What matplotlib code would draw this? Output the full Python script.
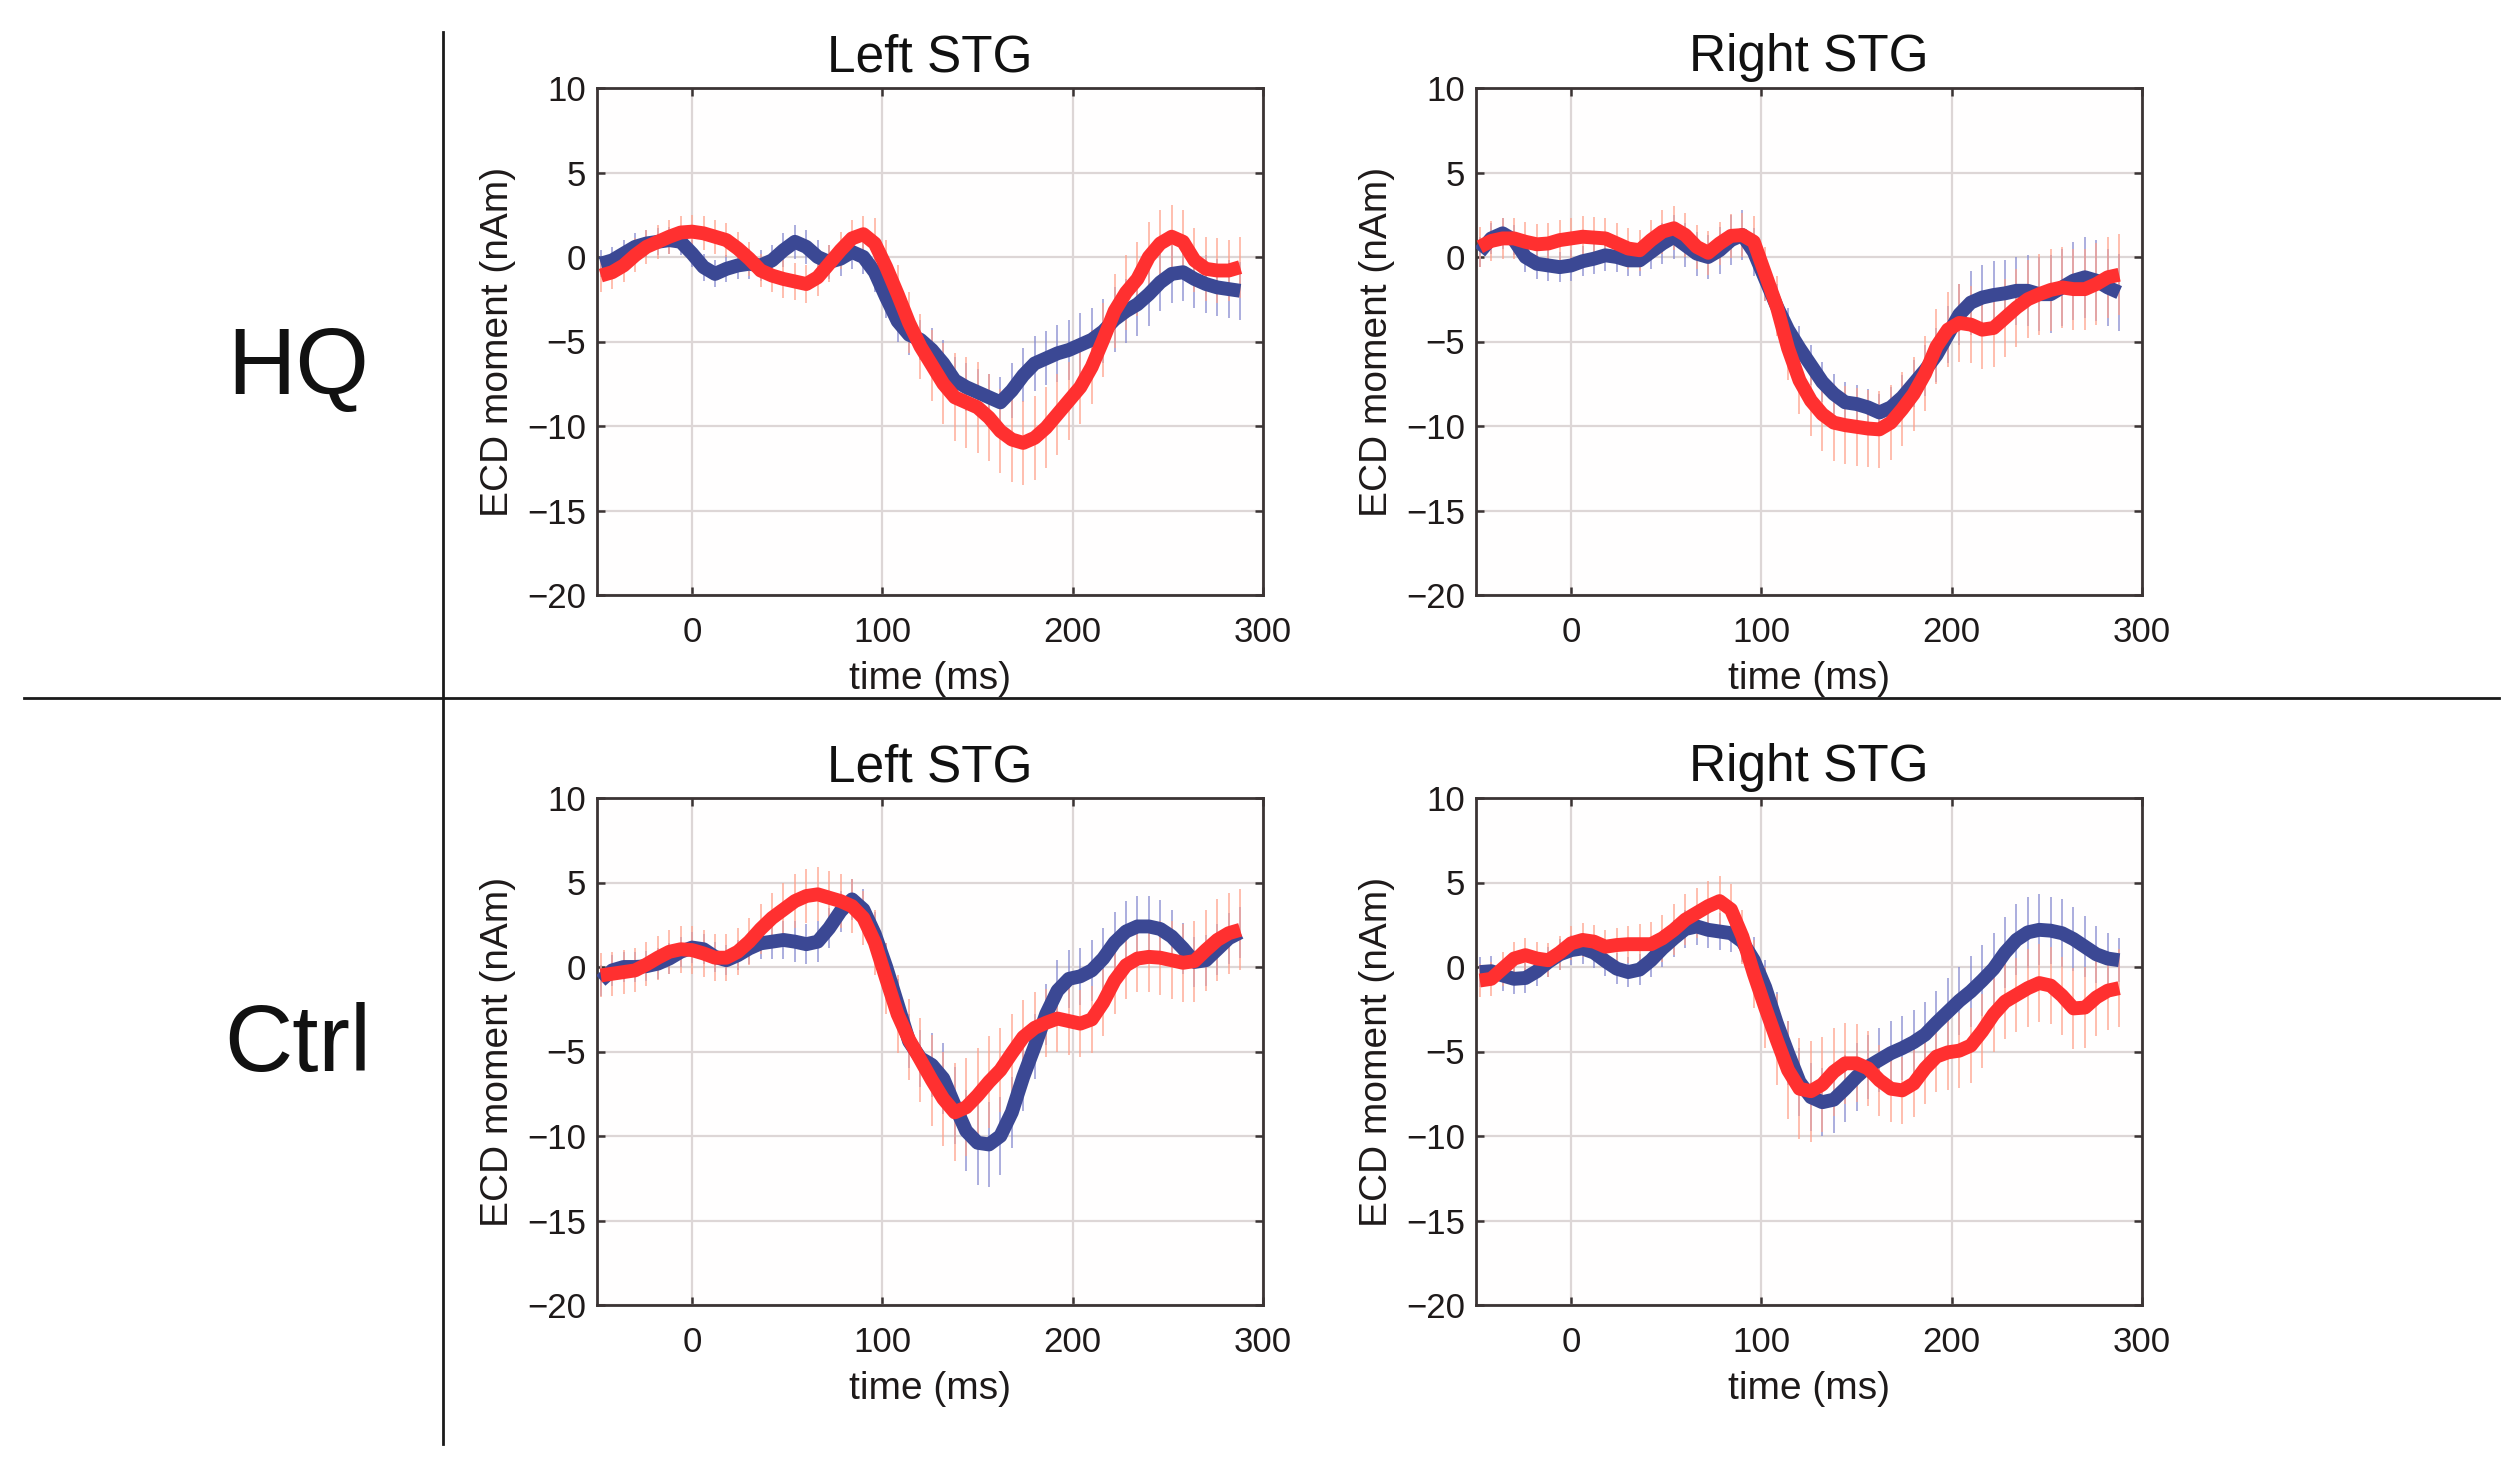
import numpy as np
import matplotlib
matplotlib.use("Agg")
import matplotlib.pyplot as plt
from matplotlib.lines import Line2D

plt.rcParams['font.family'] = ['Liberation Sans', 'DejaVu Sans']

# ---------------- data ----------------
time_ms = np.arange(-48, 289, 6)   # sampling grid of the averaged waveforms (ms)

row_labels = ["HQ", "Ctrl"]
col_titles = ["Left STG", "Right STG"]

hq_left_blue = [-0.4, -0.2, 0.2, 0.6, 0.8, 0.9, 1.0, 0.9, 0.2, -0.6, -1.0, -0.7, -0.5, -0.4, -0.5, -0.2,
                0.4, 0.9, 0.6, 0.0, -0.3, -0.1, 0.3, 0.0,
                -0.9, -2.4, -3.8, -4.6, -4.9, -5.5,
                -6.3, -7.3, -7.7, -8.0, -8.3, -8.6,
                -7.9, -7.0, -6.3, -6.0, -5.7, -5.5,
                -5.2, -4.9, -4.4, -3.7, -3.2, -2.8, -2.2,
                -1.5, -1.0, -0.9, -1.3, -1.6, -1.8, -1.9, -2.0]
hq_left_red = [-1.1, -0.9, -0.5, 0.1, 0.6, 0.9, 1.2, 1.45, 1.5, 1.4, 1.2, 1.0, 0.5, -0.1, -0.8, -1.1,
               -1.3, -1.45, -1.6, -1.2, -0.4, 0.4, 1.1, 1.35,
               0.8, -0.6, -2.2, -3.9, -5.3, -6.4,
               -7.5, -8.3, -8.6, -8.9, -9.5, -10.3,
               -10.8, -11.0, -10.7, -10.1, -9.3, -8.5,
               -7.7, -6.5, -4.9, -3.2, -2.1, -1.3, 0.0,
               0.8, 1.2, 0.9, -0.2, -0.7, -0.8, -0.8, -0.6]
hq_right_blue = [0.3, 1.1, 1.4, 1.0, 0.0, -0.4, -0.5, -0.6, -0.5, -0.25, -0.1, 0.1, 0.0, -0.2, -0.2, 0.3,
                 0.8, 1.2, 0.7, 0.2, 0.0, 0.4, 1.0, 1.3,
                 0.3, -1.3, -2.9, -4.3, -5.4, -6.4,
                 -7.4, -8.1, -8.6, -8.7, -8.9, -9.2,
                 -8.9, -8.3, -7.5, -6.7, -5.8, -4.6,
                 -3.4, -2.7, -2.4, -2.25, -2.15, -2.0, -2.0,
                 -2.2, -2.2, -1.8, -1.4, -1.2, -1.4, -1.8, -2.1]
hq_right_red = [0.6, 0.95, 1.1, 1.1, 0.9, 0.75, 0.8, 1.0, 1.1, 1.2, 1.15, 1.1, 0.8, 0.5, 0.4, 1.0,
                1.5, 1.7, 1.3, 0.6, 0.25, 0.8, 1.25, 1.3,
                0.9, -1.0, -2.9, -5.4, -7.3, -8.5,
                -9.3, -9.8, -9.95, -10.05, -10.15, -10.2,
                -9.8, -9.0, -8.1, -6.9, -5.3, -4.3,
                -3.9, -4.0, -4.3, -4.2, -3.6, -3.0, -2.5,
                -2.2, -1.95, -1.8, -1.9, -1.9, -1.6, -1.2, -1.05]
ctrl_left_blue = [-0.8, -0.2, 0.0, 0.0, 0.05, 0.2, 0.5, 0.9, 1.15, 1.05, 0.6, 0.4, 0.7, 1.1, 1.4, 1.5,
                  1.6, 1.5, 1.35, 1.5, 2.3, 3.3, 4.0, 3.4,
                  1.95, 0.0, -2.2, -4.4, -5.4, -5.8,
                  -6.6, -8.2, -9.7, -10.4, -10.5, -10.0,
                  -8.6, -6.5, -4.7, -2.8, -1.4, -0.7,
                  -0.55, -0.2, 0.5, 1.45, 2.1, 2.4, 2.4,
                  2.25, 1.8, 1.1, 0.3, 0.4, 1.05, 1.7, 2.05]
ctrl_left_red = [-0.5, -0.4, -0.3, -0.2, 0.15, 0.55, 0.9, 1.05, 1.0, 0.8, 0.55, 0.55, 0.9, 1.5, 2.25, 2.9,
                 3.4, 3.9, 4.2, 4.3, 4.1, 3.9, 3.6, 2.9,
                 1.45, -0.7, -2.8, -4.3, -5.5, -6.7,
                 -7.8, -8.6, -8.3, -7.6, -6.8, -6.1,
                 -5.1, -4.15, -3.6, -3.3, -3.05, -3.2,
                 -3.35, -3.1, -2.1, -0.8, 0.1, 0.5, 0.6,
                 0.55, 0.4, 0.25, 0.35, 1.0, 1.6, 2.0, 2.2]
ctrl_right_blue = [-0.3, -0.25, -0.5, -0.7, -0.65, -0.25, 0.3, 0.75, 1.0, 1.1, 0.85, 0.35, -0.1, -0.3, -0.15, 0.4,
                   1.1, 1.7, 2.25, 2.4, 2.2, 2.1, 2.0, 1.5,
                   0.4, -1.2, -3.3, -5.1, -6.8, -7.7,
                   -8.0, -7.85, -7.2, -6.5, -5.9, -5.5,
                   -5.1, -4.8, -4.45, -4.0, -3.3, -2.65,
                   -2.0, -1.45, -0.8, -0.1, 0.85, 1.6, 2.05,
                   2.2, 2.15, 2.0, 1.65, 1.2, 0.75, 0.5, 0.4]
ctrl_right_red = [-0.8, -0.7, -0.1, 0.5, 0.7, 0.5, 0.4, 0.85, 1.4, 1.6, 1.5, 1.2, 1.3, 1.35, 1.35, 1.35,
                  1.7, 2.2, 2.8, 3.2, 3.6, 3.9, 3.4, 1.8,
                  -0.4, -2.4, -4.3, -6.1, -7.2, -7.35,
                  -6.95, -6.2, -5.7, -5.7, -6.0, -6.7,
                  -7.2, -7.3, -6.9, -6.0, -5.3, -5.05,
                  -4.95, -4.65, -3.8, -2.8, -2.05, -1.65, -1.25,
                  -0.95, -1.1, -1.7, -2.45, -2.4, -1.8, -1.4, -1.25]

# standard errors (nAm)
hq_left_blue_sem = [0.8, 0.8, 0.8, 0.8, 0.8, 0.8, 0.8, 0.8, 0.8, 0.8, 0.8, 0.8, 0.8, 0.9, 0.9, 0.9,
                    1.0, 1.0, 1.0, 1.0, 1.0, 1.0, 1.0, 1.0,
                    1.2, 1.2, 1.2, 1.2, 1.2, 1.3,
                    1.4, 1.4, 1.4, 1.4, 1.4, 1.5,
                    1.6, 1.6, 1.6, 1.6, 1.7, 1.8,
                    1.9, 1.9, 1.9, 1.9, 1.9, 1.9, 1.9,
                    1.7, 1.7, 1.7, 1.7, 1.7, 1.7, 1.7, 1.7]
hq_left_red_sem = [1.0, 1.0, 1.0, 1.0, 1.0, 1.0, 1.0, 1.0, 1.0, 1.0, 1.0, 1.0, 1.0, 1.0, 1.0, 1.0,
                   1.1, 1.1, 1.1, 1.1, 1.1, 1.1, 1.1, 1.1,
                   1.5, 1.6, 1.7, 1.8, 1.9, 2.1,
                   2.4, 2.6, 2.7, 2.7, 2.6, 2.5,
                   2.5, 2.5, 2.5, 2.4, 2.4, 2.3,
                   2.2, 2.2, 2.2, 2.2, 2.2, 2.2, 2.1,
                   2.0, 1.9, 1.9, 1.9, 1.9, 1.9, 1.8, 1.8]
hq_right_blue_sem = [0.9, 0.9, 0.9, 0.9, 0.9, 0.9, 0.9, 0.9, 0.9, 0.9, 0.9, 0.9, 0.9, 0.9, 0.9, 1.0,
                     1.2, 1.3, 1.3, 1.3, 1.3, 1.4, 1.5, 1.5,
                     1.4, 1.3, 1.3, 1.3, 1.3, 1.2,
                     1.2, 1.2, 1.2, 1.1, 1.1, 1.1,
                     1.2, 1.3, 1.4, 1.5, 1.6, 1.7,
                     1.8, 1.9, 1.9, 2.0, 2.0, 2.0, 2.1,
                     2.2, 2.3, 2.3, 2.3, 2.4, 2.4, 2.3, 2.3]
hq_right_red_sem = [1.2, 1.2, 1.2, 1.2, 1.2, 1.2, 1.2, 1.2, 1.2, 1.2, 1.2, 1.2, 1.2, 1.2, 1.2, 1.2,
                    1.3, 1.3, 1.3, 1.3, 1.3, 1.3, 1.3, 1.3,
                    1.5, 1.6, 1.8, 1.9, 2.0, 2.1,
                    2.2, 2.3, 2.3, 2.3, 2.3, 2.3,
                    2.2, 2.2, 2.2, 2.2, 2.2, 2.2,
                    2.3, 2.3, 2.3, 2.3, 2.3, 2.3, 2.3,
                    2.4, 2.4, 2.4, 2.4, 2.4, 2.4, 2.4, 2.4]
ctrl_left_blue_sem = [0.9, 0.9, 0.9, 0.9, 0.9, 0.9, 0.9, 0.9, 0.9, 0.9, 0.9, 0.9, 0.9, 0.9, 0.9, 1.0,
                      1.1, 1.2, 1.2, 1.2, 1.2, 1.2, 1.2, 1.2,
                      1.3, 1.4, 1.5, 1.6, 1.7, 1.9,
                      2.1, 2.3, 2.4, 2.5, 2.5, 2.3,
                      2.1, 2.0, 1.9, 1.8, 1.8, 1.7,
                      1.7, 1.8, 1.8, 1.8, 1.8, 1.8, 1.8,
                      1.7, 1.6, 1.5, 1.5, 1.5, 1.5, 1.5, 1.5]
ctrl_left_red_sem = [1.3, 1.3, 1.3, 1.3, 1.3, 1.3, 1.3, 1.4, 1.4, 1.4, 1.4, 1.4, 1.4, 1.4, 1.5, 1.5,
                     1.6, 1.6, 1.6, 1.6, 1.6, 1.6, 1.6, 1.6,
                     1.9, 2.1, 2.3, 2.4, 2.5, 2.7,
                     2.8, 2.9, 2.9, 2.8, 2.7, 2.5,
                     2.3, 2.2, 2.1, 2.0, 2.0, 2.0,
                     2.0, 2.0, 2.0, 2.0, 2.0, 2.0, 2.1,
                     2.2, 2.3, 2.3, 2.4, 2.4, 2.4, 2.4, 2.4]
ctrl_right_blue_sem = [0.9, 0.9, 0.9, 0.9, 0.9, 0.9, 0.9, 0.9, 0.9, 0.9, 0.9, 0.9, 0.9, 0.9, 0.9, 1.0,
                       1.1, 1.1, 1.1, 1.1, 1.1, 1.1, 1.1, 1.2,
                       1.4, 1.6, 1.8, 1.9, 2.0, 2.0,
                       2.0, 2.0, 2.0, 2.0, 1.9, 1.9,
                       1.9, 1.9, 1.9, 1.9, 1.9, 2.0,
                       2.0, 2.1, 2.1, 2.1, 2.1, 2.1, 2.1,
                       2.1, 2.0, 2.0, 1.9, 1.8, 1.7, 1.5, 1.3]
ctrl_right_red_sem = [1.0, 1.0, 1.0, 1.0, 1.0, 1.0, 1.0, 1.0, 1.0, 1.0, 1.0, 1.0, 1.0, 1.1, 1.2, 1.3,
                      1.4, 1.5, 1.5, 1.5, 1.5, 1.5, 1.5, 1.6,
                      2.0, 2.4, 2.7, 2.9, 3.0, 3.0,
                      2.8, 2.6, 2.4, 2.3, 2.2, 2.1,
                      2.0, 2.0, 2.0, 2.1, 2.1, 2.2,
                      2.2, 2.2, 2.2, 2.2, 2.2, 2.2, 2.3,
                      2.3, 2.3, 2.3, 2.4, 2.4, 2.3, 2.3, 2.3]

x_ticks = [0, 100, 200, 300]
y_ticks = [-20, -15, -10, -5, 0, 5, 10]
y_tick_labels = ['\u221220', '\u221215', '\u221210', '\u22125', '0', '5', '10']

# ---------------- styling ----------------
BLUE = '#3b4894'
RED = '#ff3030'
BLUE_BAR = '#8488cf'
RED_BAR = '#ffa08a'
SPINE = '#3b3434'
GRID = '#ddd6d6'
TXT = '#1e1a1a'

W, H = 2512, 1462
fig = plt.figure(figsize=(W / 100, H / 100), dpi=100)
fig.patch.set_facecolor('white')

ax_w = 666 / W
ax_h = 507 / H
lefts = [597 / W, 1476 / W]
bottoms = [1 - 595 / H, 1 - 1305 / H]

panels = [
    (0, 0, hq_left_blue, hq_left_blue_sem, hq_left_red, hq_left_red_sem),
    (0, 1, hq_right_blue, hq_right_blue_sem, hq_right_red, hq_right_red_sem),
    (1, 0, ctrl_left_blue, ctrl_left_blue_sem, ctrl_left_red, ctrl_left_red_sem),
    (1, 1, ctrl_right_blue, ctrl_right_blue_sem, ctrl_right_red, ctrl_right_red_sem),
]

for r, c, b, bs, rd, rs in panels:
    ax = fig.add_axes([lefts[c], bottoms[r], ax_w, ax_h])
    ax.set_facecolor('#fffefe')
    b = np.array(b); bs = np.array(bs)
    rd = np.array(rd); rs = np.array(rs)
    ax.vlines(time_ms, b - bs, b + bs, colors=BLUE_BAR, linewidth=1.2, alpha=0.8, zorder=2)
    ax.vlines(time_ms, rd - rs, rd + rs, colors=RED_BAR, linewidth=1.2, alpha=0.8, zorder=2)
    ax.plot(time_ms, b, color=BLUE, linewidth=10, solid_capstyle='butt', solid_joinstyle='round', zorder=3)
    ax.plot(time_ms, rd, color=RED, linewidth=10, solid_capstyle='butt', solid_joinstyle='round', zorder=4)
    ax.set_xlim(-50, 300)
    ax.set_ylim(-20, 10)
    ax.set_xticks(x_ticks)
    ax.set_yticks(y_ticks)
    ax.set_yticklabels(y_tick_labels)
    ax.grid(True, color=GRID, linewidth=1.6, zorder=0)
    ax.set_axisbelow(True)
    for s in ax.spines.values():
        s.set_color(SPINE)
        s.set_linewidth(2.0)
    ax.tick_params(direction='in', top=True, right=True, length=6, width=1.8,
                   color=SPINE, labelsize=25, labelcolor=TXT)
    ax.tick_params(axis='x', pad=15)
    ax.tick_params(axis='y', pad=8)
    ax.set_title(col_titles[c], fontsize=37, color='#111111', pad=12)
    ax.set_xlabel('time (ms)', fontsize=28, color=TXT, labelpad=9)
    ax.set_ylabel('ECD moment (nAm)', fontsize=28, color=TXT, labelpad=8)

# row labels
fig.text(298 / W, 1 - 370 / H, row_labels[0], fontsize=68, ha='center', va='center', color='#111111')
fig.text(298 / W, 1 - 1047 / H, row_labels[1], fontsize=68, ha='center', va='center', color='#111111')

# separator lines
fig.add_artist(Line2D([443 / W, 443 / W], [1 - 32 / H, 1 - 1444 / H], color='#1a1a1a', linewidth=2.0))
fig.add_artist(Line2D([24 / W, 2499 / W], [1 - 698 / H, 1 - 698 / H], color='#1a1a1a', linewidth=2.0))

fig.savefig('out.png', dpi=100, facecolor='white')
